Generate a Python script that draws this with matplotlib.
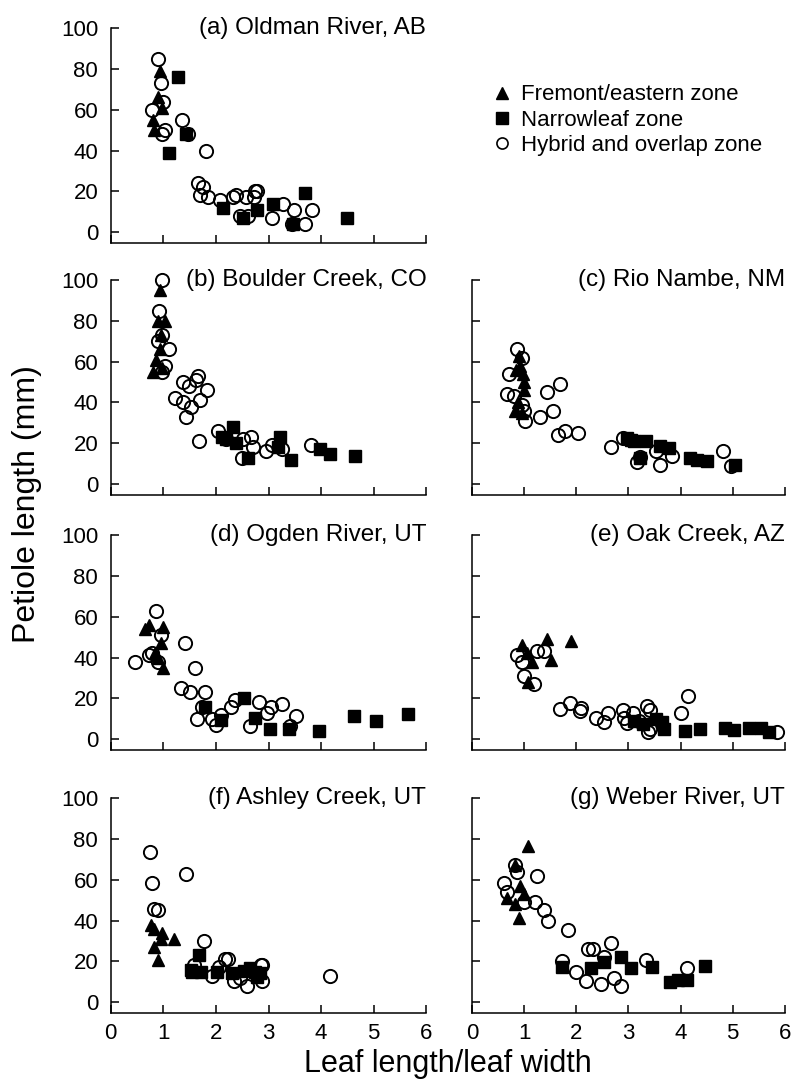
import matplotlib.pyplot as plt
from matplotlib.lines import Line2D

plt.rcParams['font.family'] = ['Liberation Sans', 'DejaVu Sans']

# (a) Oldman River, AB
a_fre_x = [0.94, 0.89, 0.97, 0.81, 0.83]
a_fre_y = [79, 66, 61, 55, 50]
a_nar_x = [1.27, 1.11, 1.44, 2.14, 2.51, 2.78, 3.09, 3.69, 3.47, 4.49]
a_nar_y = [76, 39, 48, 12, 7, 11, 14, 19, 4, 7]
a_hyb_x = [0.89, 0.95, 1.00, 0.78, 1.03, 0.98, 1.35, 1.47, 1.81, 1.66, 1.75, 1.70, 1.85, 2.08,
           2.32, 2.38, 2.58, 2.74, 2.78, 2.72, 2.46, 2.61, 3.06, 3.27, 3.48, 3.69, 3.82, 3.44]
a_hyb_y = [85, 73, 64, 60, 50, 48, 55, 48, 40, 24, 22, 18, 17, 16,
           17, 18, 17, 20, 20, 17, 8, 8, 7, 14, 11, 4, 11, 4]

# (b) Boulder Creek, CO
b_fre_x = [0.94, 0.90, 1.03, 0.96, 0.93, 0.87, 0.80, 0.97]
b_fre_y = [95, 80, 80, 73, 66, 61, 55, 57]
b_nar_x = [2.11, 2.33, 2.38, 2.61, 3.22, 3.18, 3.42, 3.97, 4.16, 4.64, 2.20]
b_nar_y = [23, 28, 20, 13, 23, 18, 12, 17, 15, 14, 22]
b_hyb_x = [0.97, 0.92, 0.97, 0.90, 1.10, 1.03, 0.97, 1.66, 1.63, 1.37, 1.49, 1.84, 1.22, 1.38,
           1.70, 1.52, 1.43, 1.68, 2.04, 2.52, 2.66, 2.70, 2.49, 2.96, 3.06, 3.25, 3.80, 2.20]
b_hyb_y = [100, 85, 73, 70, 66, 58, 55, 53, 51, 50, 48, 46, 42, 40,
           41, 38, 33, 21, 26, 22, 23, 18, 13, 16, 19, 17, 19, 22]

# (c) Rio Nambe, NM
c_fre_x = [0.89, 0.92, 0.97, 1.00, 1.00, 0.83, 0.96, 0.88, 0.85]
c_fre_y = [63, 58, 54, 50, 46, 36, 35, 40, 56]
c_nar_x = [2.98, 3.11, 3.33, 3.23, 3.61, 3.77, 4.18, 4.31, 4.50, 5.04, 3.05]
c_nar_y = [22.5, 21, 21, 13, 18.5, 17.6, 12.7, 12, 11.4, 9.5, 21.5]
c_hyb_x = [0.86, 0.96, 0.70, 0.67, 0.80, 0.96, 0.99, 1.02, 1.30, 1.43, 1.68, 1.56, 1.65, 1.78,
           2.03, 2.66, 2.89, 3.17, 3.23, 3.52, 3.61, 3.84, 4.82, 4.97]
c_hyb_y = [66, 62, 54, 44, 43, 39, 36, 31, 33, 45, 49, 36, 24, 26,
           25, 18, 22.5, 11, 13.5, 16, 9.5, 14, 16, 9]

# (d) Ogden River, UT
d_fre_x = [0.66, 0.73, 1.00, 0.95, 0.85, 1.00, 0.90]
d_fre_y = [54, 56, 55, 47, 42, 35, 40]
d_nar_x = [1.80, 2.10, 2.53, 2.75, 3.02, 3.39, 3.96, 4.62, 5.05, 5.66]
d_nar_y = [16, 9.5, 20, 10.6, 5, 5, 4, 11.5, 9, 12.2]
d_hyb_x = [0.87, 0.47, 0.73, 0.79, 0.89, 0.95, 1.42, 1.61, 1.33, 1.51, 1.80, 1.74, 1.65,
           1.93, 2.01, 2.10, 2.28, 2.37, 2.65, 2.82, 2.97, 3.04, 3.26, 3.41, 3.53]
d_hyb_y = [63, 38, 41, 42, 38, 51, 47, 35, 25, 23, 23, 16, 10,
           10, 7, 12, 16, 19, 6.5, 18, 13, 16, 17, 6.5, 11.5]

# (e) Oak Creek, AZ
e_fre_x = [0.96, 1.15, 1.08, 1.43, 1.52, 1.89, 1.05]
e_fre_y = [46, 38, 28, 49, 39, 48, 42]
e_nar_x = [3.11, 3.27, 3.52, 3.65, 3.68, 4.09, 4.37, 4.85, 5.02, 5.32, 5.54, 5.70]
e_nar_y = [9, 7.4, 9.8, 8.5, 5, 4, 5, 5.7, 4.6, 5.7, 5.7, 3.3]
e_hyb_x = [0.86, 0.96, 0.99, 1.18, 1.24, 1.37, 1.68, 1.87, 2.09, 2.06, 2.38, 2.54, 2.61,
           2.89, 2.92, 2.98, 3.09, 3.36, 3.42, 3.42, 3.37, 4.01, 4.15, 5.86, 3.20]
e_hyb_y = [41, 37.6, 31, 27, 43, 43, 14.7, 17.6, 15.5, 14, 10.6, 8.5, 13,
           14.4, 10.6, 8, 13, 16.3, 14.4, 5, 3.3, 13, 21, 3.3, 9]

# (f) Ashley Creek, UT
f_fre_x = [0.76, 0.82, 0.98, 1.20, 0.82, 0.89, 0.95]
f_fre_y = [38, 36, 34, 31, 27, 20.5, 31]
f_nar_x = [1.68, 1.52, 1.71, 2.02, 2.30, 2.53, 2.75, 2.78, 1.54, 2.64, 2.83]
f_nar_y = [23, 16, 14.6, 14.6, 14.4, 15.5, 14.6, 12.4, 15, 16.8, 14.4]
f_hyb_x = [0.74, 0.79, 0.82, 0.89, 1.44, 1.78, 2.18, 2.85, 4.16, 1.58, 1.92, 2.23,
           2.35, 2.59, 2.88, 2.88, 2.45, 2.05]
f_hyb_y = [73.5, 58.5, 45.5, 45, 63, 30, 21, 18, 12.8, 18, 12.8, 21,
           10.4, 8, 18.4, 10.4, 12, 17]

# (g) Weber River, UT
g_fre_x = [1.07, 0.92, 0.99, 0.83, 0.89, 0.67, 0.83]
g_fre_y = [76.6, 57, 53, 48, 41, 51, 67]
g_nar_x = [1.73, 2.28, 2.54, 2.85, 3.04, 3.46, 3.80, 3.96, 4.12, 4.47]
g_nar_y = [17.4, 16.6, 19.5, 22, 16.6, 17, 9.7, 10.8, 10.8, 17.7]
g_hyb_x = [0.83, 0.86, 1.24, 0.61, 0.67, 0.99, 1.21, 1.37, 1.46, 1.84, 2.22, 2.32, 2.66,
           2.54, 1.72, 2.00, 2.19, 2.47, 2.73, 2.85, 3.33, 4.12]
g_hyb_y = [67, 64, 62, 58.5, 54, 49, 49, 45, 40, 35.5, 26, 26, 29,
           22, 20, 15, 10.5, 9, 12, 8, 20.5, 16.6]

titles = ['(a) Oldman River, AB', '(b) Boulder Creek, CO', '(c) Rio Nambe, NM',
          '(d) Ogden River, UT', '(e) Oak Creek, AZ', '(f) Ashley Creek, UT',
          '(g) Weber River, UT']
panels = [
    (a_fre_x, a_fre_y, a_nar_x, a_nar_y, a_hyb_x, a_hyb_y),
    (b_fre_x, b_fre_y, b_nar_x, b_nar_y, b_hyb_x, b_hyb_y),
    (c_fre_x, c_fre_y, c_nar_x, c_nar_y, c_hyb_x, c_hyb_y),
    (d_fre_x, d_fre_y, d_nar_x, d_nar_y, d_hyb_x, d_hyb_y),
    (e_fre_x, e_fre_y, e_nar_x, e_nar_y, e_hyb_x, e_hyb_y),
    (f_fre_x, f_fre_y, f_nar_x, f_nar_y, f_hyb_x, f_hyb_y),
    (g_fre_x, g_fre_y, g_nar_x, g_nar_y, g_hyb_x, g_hyb_y),
]
# grid slot (row, col) for each panel; slot (0, 1) holds the legend
slots = [(0, 0), (1, 0), (1, 1), (2, 0), (2, 1), (3, 0), (3, 1)]

fig = plt.figure(figsize=(7.93, 10.81), dpi=100)
lefts = [0.1396, 0.5955]
widths = [0.398, 0.394]
bottoms = [0.7752, 0.5421, 0.3062, 0.0629]
height = 0.1989

for data, title, (r, c) in zip(panels, titles, slots):
    fx, fy, nx, ny, hx, hy = data
    ax = fig.add_axes([lefts[c], bottoms[r], widths[c], height])
    ax.plot(fx, fy, '^', color='black', ms=9, clip_on=False, zorder=3)
    ax.plot(nx, ny, 's', color='black', ms=9, clip_on=False, zorder=3)
    ax.plot(hx, hy, 'o', mfc='none', mec='black', mew=1.4, ms=9.5, clip_on=False, zorder=4)
    ax.set_xlim(0, 6)
    ax.set_ylim(-5.3, 100)
    ax.set_xticks(range(7))
    ax.set_yticks(range(0, 101, 20))
    for s in ['top', 'right']:
        ax.spines[s].set_visible(False)
    for s in ['left', 'bottom']:
        ax.spines[s].set_linewidth(1.1)
    ax.tick_params(direction='in', length=6, width=1.1, labelsize=16)
    ax.tick_params(axis='y', pad=9)
    ax.tick_params(axis='x', pad=7)
    if r != 3:
        ax.set_xticklabels([])
    if c != 0:
        ax.set_yticklabels([])
    ax.text(6, 100, title, ha='right', va='center', fontsize=17.5)

handles = [
    Line2D([], [], ls='none', marker='^', color='black', ms=8.5),
    Line2D([], [], ls='none', marker='s', color='black', ms=8),
    Line2D([], [], ls='none', marker='o', mfc='none', mec='black', mew=1.2, ms=8),
]
labels = ['Fremont/eastern zone', 'Narrowleaf zone', 'Hybrid and overlap zone']
fig.legend(handles, labels, loc='upper left', bbox_to_anchor=(0.622, 0.922),
           frameon=False, fontsize=16, handlelength=0.8, handletextpad=0.45,
           labelspacing=0.2, borderpad=0, borderaxespad=0)

fig.text(0.034, 0.534, 'Petiole length (mm)', rotation=90, ha='center', va='center', fontsize=23)
fig.text(0.565, 0.016, 'Leaf length/leaf width', ha='center', va='center', fontsize=22)

fig.savefig('out.png', dpi=100)
